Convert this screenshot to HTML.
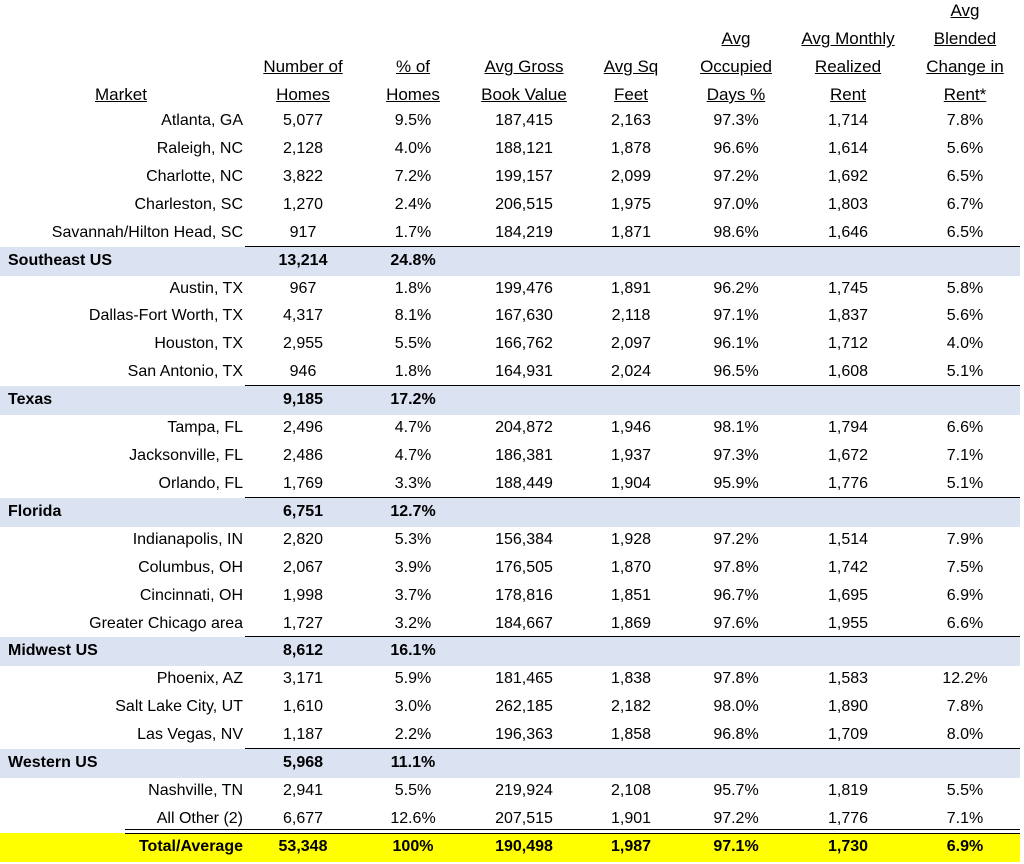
<!DOCTYPE html>
<html><head><meta charset="utf-8"><style>
body{margin:0;width:1024px;height:864px;background:#fff;position:relative;overflow:hidden;font-family:"Liberation Sans",sans-serif;font-size:16px;color:#000}
.c{position:absolute;white-space:nowrap;line-height:28px;height:28px}
.h{font-size:17px}
.band{position:absolute;left:0;width:1020px}
.hl{position:absolute;height:1px;background:#000}
.u{text-decoration:underline}
</style></head><body>
<div id="t"></div>
<script>
const headers=[["Market"],["Number of","Homes"],["% of","Homes"],["Avg Gross","Book Value"],["Avg Sq","Feet"],["Avg","Occupied","Days %"],["Avg Monthly","Realized","Rent"],["Avg","Blended","Change in","Rent*"]];
const rows=[
["d","Atlanta, GA","5,077","9.5%","187,415","2,163","97.3%","1,714","7.8%"],
["d","Raleigh, NC","2,128","4.0%","188,121","1,878","96.6%","1,614","5.6%"],
["d","Charlotte, NC","3,822","7.2%","199,157","2,099","97.2%","1,692","6.5%"],
["d","Charleston, SC","1,270","2.4%","206,515","1,975","97.0%","1,803","6.7%"],
["d","Savannah/Hilton Head, SC","917","1.7%","184,219","1,871","98.6%","1,646","6.5%"],
["s","Southeast US","13,214","24.8%"],
["d","Austin, TX","967","1.8%","199,476","1,891","96.2%","1,745","5.8%"],
["d","Dallas-Fort Worth, TX","4,317","8.1%","167,630","2,118","97.1%","1,837","5.6%"],
["d","Houston, TX","2,955","5.5%","166,762","2,097","96.1%","1,712","4.0%"],
["d","San Antonio, TX","946","1.8%","164,931","2,024","96.5%","1,608","5.1%"],
["s","Texas","9,185","17.2%"],
["d","Tampa, FL","2,496","4.7%","204,872","1,946","98.1%","1,794","6.6%"],
["d","Jacksonville, FL","2,486","4.7%","186,381","1,937","97.3%","1,672","7.1%"],
["d","Orlando, FL","1,769","3.3%","188,449","1,904","95.9%","1,776","5.1%"],
["s","Florida","6,751","12.7%"],
["d","Indianapolis, IN","2,820","5.3%","156,384","1,928","97.2%","1,514","7.9%"],
["d","Columbus, OH","2,067","3.9%","176,505","1,870","97.8%","1,742","7.5%"],
["d","Cincinnati, OH","1,998","3.7%","178,816","1,851","96.7%","1,695","6.9%"],
["d","Greater Chicago area","1,727","3.2%","184,667","1,869","97.6%","1,955","6.6%"],
["s","Midwest US","8,612","16.1%"],
["d","Phoenix, AZ","3,171","5.9%","181,465","1,838","97.8%","1,583","12.2%"],
["d","Salt Lake City, UT","1,610","3.0%","262,185","2,182","98.0%","1,890","7.8%"],
["d","Las Vegas, NV","1,187","2.2%","196,363","1,858","96.8%","1,709","8.0%"],
["s","Western US","5,968","11.1%"],
["d","Nashville, TN","2,941","5.5%","219,924","2,108","95.7%","1,819","5.5%"],
["d","All Other (2)","6,677","12.6%","207,515","1,901","97.2%","1,776","7.1%"],
["t","Total/Average","53,348","100%","190,498","1,987","97.1%","1,730","6.9%"]];
const T=document.getElementById('t');
const cx=[0,303,413,524,631,736,848,965];
const RH=27.92, top0=107;
function cell(txt,x,y,align,cls){const d=document.createElement('div');d.className='c '+(cls||'');d.textContent=txt;
 if(align==='r'){d.style.right=(1024-x)+'px';}else if(align==='l'){d.style.left=x+'px';}else{d.style.left=(x-100)+'px';d.style.width='200px';d.style.textAlign='center';}
 d.style.top=y+'px';T.appendChild(d);return d;}
headers.forEach((h,ci)=>{h.forEach((line,li)=>{const r=li-h.length;const y=top0+r*RH+2;
 const d=ci===0?cell(line,95,y,'l','u h'):cell(line,cx[ci],y,'c','u h');
 
 });});
rows.forEach((r,i)=>{const y=top0+i*RH;const type=r[0];
 if(type==='s'||type==='t'){const b=document.createElement('div');b.className='band';b.style.top=y+'px';b.style.height=(RH+1)+'px';b.style.background=type==='s'?'#dbe3f2':'#ffff00';
  
  
  T.appendChild(b);
  const l=document.createElement('div');l.className='hl';l.style.top=(y-1)+'px';
  if(type==='s'){l.style.left='245px';l.style.width='775px';}else{l.style.left='125px';l.style.width='895px';l.style.height='3px';l.style.background='none';l.style.borderTop='1px solid #000';l.style.borderBottom='1px solid #000';l.style.top=(y-4)+'px';}
  
  
  T.appendChild(l);}
 const bold=type!=='d';
 const m=type==='s'?cell(r[1],8,y,'l'):cell(r[1],243,y,'r');
 
 
 if(bold)m.style.fontWeight='bold';
 for(let k=2;k<r.length;k++){const d=cell(r[k],cx[k-1],y,'c');if(bold)d.style.fontWeight='bold';
  
  }
});
</script>
</body></html>
